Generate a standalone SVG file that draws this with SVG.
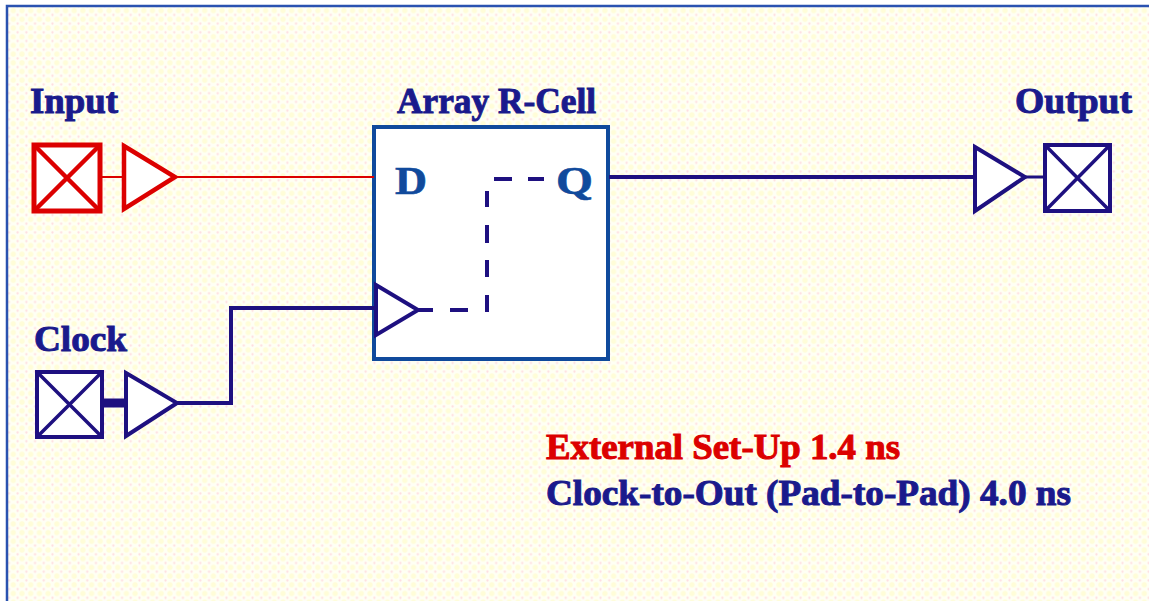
<svg xmlns="http://www.w3.org/2000/svg" width="1149" height="601" viewBox="0 0 1149 601">
<style>
text{font-family:"Liberation Serif",serif;font-weight:bold}
.lab{fill:#1a1a8c;font-size:36px;stroke:#1a1a8c;stroke-width:1px}
.pin{fill:#104a9c;font-size:41px;stroke:#104a9c;stroke-width:.6px}
.n{stroke:#1e1080;fill:#fff}
.r{stroke:#dc0000;fill:#fff}
.w{fill:none;stroke:#1e1080;stroke-width:4}
</style>
<defs>
<pattern id="dots" x="4.6" y="10.6" width="8.7" height="8.7" patternUnits="userSpaceOnUse">
<rect width="8.7" height="8.7" fill="#fffff4"/>
<circle cx="0" cy="0" r="2.6" fill="#fffdd8"/>
<circle cx="8.7" cy="0" r="2.6" fill="#fffdd8"/>
<circle cx="0" cy="8.7" r="2.6" fill="#fffdd8"/>
<circle cx="8.7" cy="8.7" r="2.6" fill="#fffdd8"/>
<circle cx="4.35" cy="4.35" r="1.1" fill="#ffdde0"/>
</pattern>
</defs>
<rect width="1149" height="601" fill="#fff"/>
<rect x="7" y="6" width="1142" height="595" fill="url(#dots)"/>
<path d="M7 601V6H1149" fill="none" stroke="#2a52b0" stroke-width="2.5"/>
<g id="cell">
<rect x="374" y="127" width="234" height="232" fill="#fff" stroke="#104a9c" stroke-width="4"/>
<text class="pin" x="395" y="194" textLength="32" lengthAdjust="spacingAndGlyphs">D</text>
<text class="pin" x="556" y="194" textLength="37" lengthAdjust="spacingAndGlyphs">Q</text>
<path d="M376 285L418 310L376 335Z" fill="#fff" stroke="#1e1080" stroke-width="4"/>
<text class="lab" x="397" y="113" textLength="199" lengthAdjust="spacingAndGlyphs">Array R-Cell</text>
</g>
<g id="connectors">
<path d="M101 177H124M175 177H374" fill="none" stroke="#dc0000" stroke-width="2"/>
<path class="w" d="M609 177H975"/>
<path d="M1025 177H1045" class="w" style="stroke-width:3"/>
<path d="M103 403H126" class="w" style="stroke-width:9"/>
<path class="w" d="M177 403H231V308H374"/>
<path class="w" d="M417 310H433M450 310H468M487 312V295M487 277V260M487 243V225M487 207V191M494 179H512M528 179H544"/>
</g>
<g id="input">
<text class="lab" x="30" y="113" textLength="88" lengthAdjust="spacingAndGlyphs">Input</text>
<rect class="r" x="34" y="145" width="66" height="66" stroke-width="5"/>
<path d="M34 145L100 211M100 145L34 211" fill="none" stroke="#dc0000" stroke-width="4.5"/>
<path class="r" d="M124 146L175 177L124 209Z" stroke-width="4.5"/>
</g>
<g id="clock">
<text class="lab" x="34" y="351" textLength="93" lengthAdjust="spacingAndGlyphs">Clock</text>
<rect class="n" x="37" y="372" width="65" height="65" stroke-width="4"/>
<path d="M37 372L102 437M102 372L37 437" fill="none" stroke="#1e1080" stroke-width="3.5"/>
<path class="n" d="M126 373L177 403L126 436Z" stroke-width="4"/>
</g>
<g id="output">
<text class="lab" x="1015" y="113" textLength="117" lengthAdjust="spacingAndGlyphs">Output</text>
<rect class="n" x="1045" y="145" width="65" height="66" stroke-width="4"/>
<path d="M1045 145L1110 211M1110 145L1045 211" fill="none" stroke="#1e1080" stroke-width="3.5"/>
<path class="n" d="M975 147L1025 177L975 211Z" stroke-width="4"/>
</g>
<g id="notes">
<text class="lab" x="546" y="459" textLength="354" lengthAdjust="spacingAndGlyphs" style="fill:#dc0000;stroke:#dc0000">External Set-Up 1.4 ns</text>
<text class="lab" x="546" y="505" textLength="525" lengthAdjust="spacingAndGlyphs">Clock-to-Out (Pad-to-Pad) 4.0 ns</text>
</g>
</svg>
